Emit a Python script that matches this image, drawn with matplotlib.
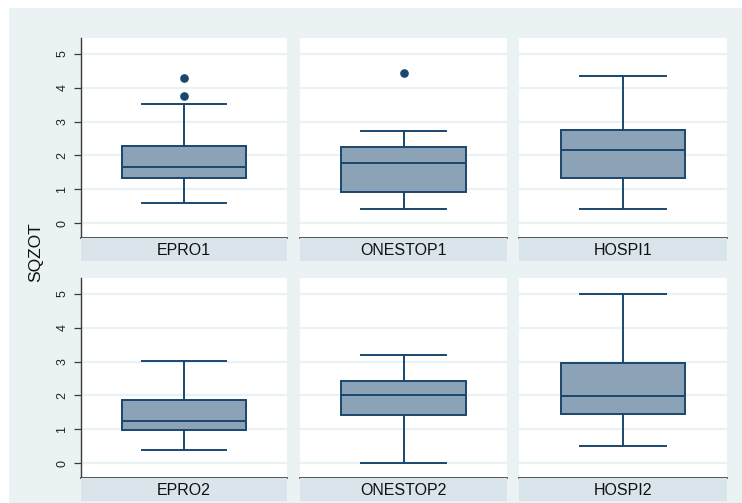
import matplotlib
matplotlib.use("Agg")
import matplotlib.pyplot as plt
from matplotlib.patches import Rectangle

plt.rcParams['font.family'] = ['Liberation Sans', 'DejaVu Sans']

# Box summaries per group (SQZOT)
groups = ["EPRO1", "ONESTOP1", "HOSPI1", "EPRO2", "ONESTOP2", "HOSPI2"]
whisker_low = [0.59, 0.42, 0.42, 0.38, 0.00, 0.50]
q1 = [1.32, 0.93, 1.34, 0.98, 1.42, 1.45]
median = [1.67, 1.78, 2.17, 1.24, 2.01, 1.99]
q3 = [2.28, 2.24, 2.76, 1.86, 2.44, 2.95]
whisker_high = [3.51, 2.71, 4.35, 3.01, 3.19, 5.00]
outliers = [[4.29, 3.77], [4.43], [], [], [], []]
yticks = [0, 1, 2, 3, 4, 5]
ylabel = "SQZOT"

BG = "#EAF2F3"
STRIP = "#D9E5EA"
FILL = "#8CA2B6"
EDGE = "#1A476F"
AXC = "#3A3A3A"

W, H = 742, 503
fig = plt.figure(figsize=(W / 100, H / 100), dpi=100, facecolor="white")

# outer graph region
fig.patches.append(Rectangle((9 / W, 0), 1 - 9 / W, (H - 8) / H,
                             transform=fig.transFigure, facecolor=BG,
                             edgecolor="none", zorder=-10))


def fx(px):
    return px / W


def fy(px):
    return 1 - px / H


cols = [(81, 287), (300, 507), (519, 727)]
rows = [(38, 238, 261), (278, 478, 501)]

for i, name in enumerate(groups):
    r, c = divmod(i, 3)
    x0, x1 = cols[c]
    yt, yb, ys = rows[r]
    ax = fig.add_axes([fx(x0), fy(yb), fx(x1 - x0), (yb - yt) / H])
    ax.set_facecolor("white")
    ax.set_xlim(-0.5, 0.5)
    ax.set_ylim(-0.44, 5.47)
    for y in yticks:
        ax.axhline(y, color=BG, lw=1.6, zorder=0)
    stats = [dict(med=median[i], q1=q1[i], q3=q3[i], whislo=whisker_low[i],
                  whishi=whisker_high[i], fliers=outliers[i])]
    ax.bxp(stats, positions=[0], widths=0.6, capwidths=0.41,
           patch_artist=True, showfliers=True,
           boxprops=dict(facecolor=FILL, edgecolor=EDGE, linewidth=1.4),
           medianprops=dict(color=EDGE, linewidth=1.4),
           whiskerprops=dict(color=EDGE, linewidth=1.4),
           capprops=dict(color=EDGE, linewidth=1.4),
           flierprops=dict(marker="o", markerfacecolor=EDGE,
                           markeredgecolor=EDGE, markersize=5.2))
    ax.set_xticks([])
    ax.set_yticks(yticks)
    for s in ("top", "right"):
        ax.spines[s].set_visible(False)
    ax.spines["bottom"].set_color(AXC)
    ax.spines["bottom"].set_linewidth(1.2)
    if c == 0:
        ax.spines["left"].set_color(AXC)
        ax.spines["left"].set_linewidth(1.0)
        ax.tick_params(axis="y", direction="out", length=5, width=0.9,
                       color=AXC, labelsize=9, labelcolor="#222222", pad=4)
        for lab in ax.get_yticklabels():
            lab.set_rotation(90)
            lab.set_va("center")
    else:
        ax.spines["left"].set_visible(False)
        ax.tick_params(axis="y", length=0, labelleft=False)

    sax = fig.add_axes([fx(x0), fy(ys), fx(x1 - x0), (ys - yb) / H])
    sax.set_facecolor(STRIP)
    sax.set_xticks([])
    sax.set_yticks([])
    for s in sax.spines.values():
        s.set_visible(False)
    sax.text(0.5, 0.45, name, transform=sax.transAxes, ha="center",
             va="center", fontsize=11.5, color="#111111")

fig.text(fx(36), fy(252), ylabel, rotation=90, ha="center", va="center",
         fontsize=12.5, color="#111111")

fig.savefig("out.png", dpi=100, facecolor="white")
